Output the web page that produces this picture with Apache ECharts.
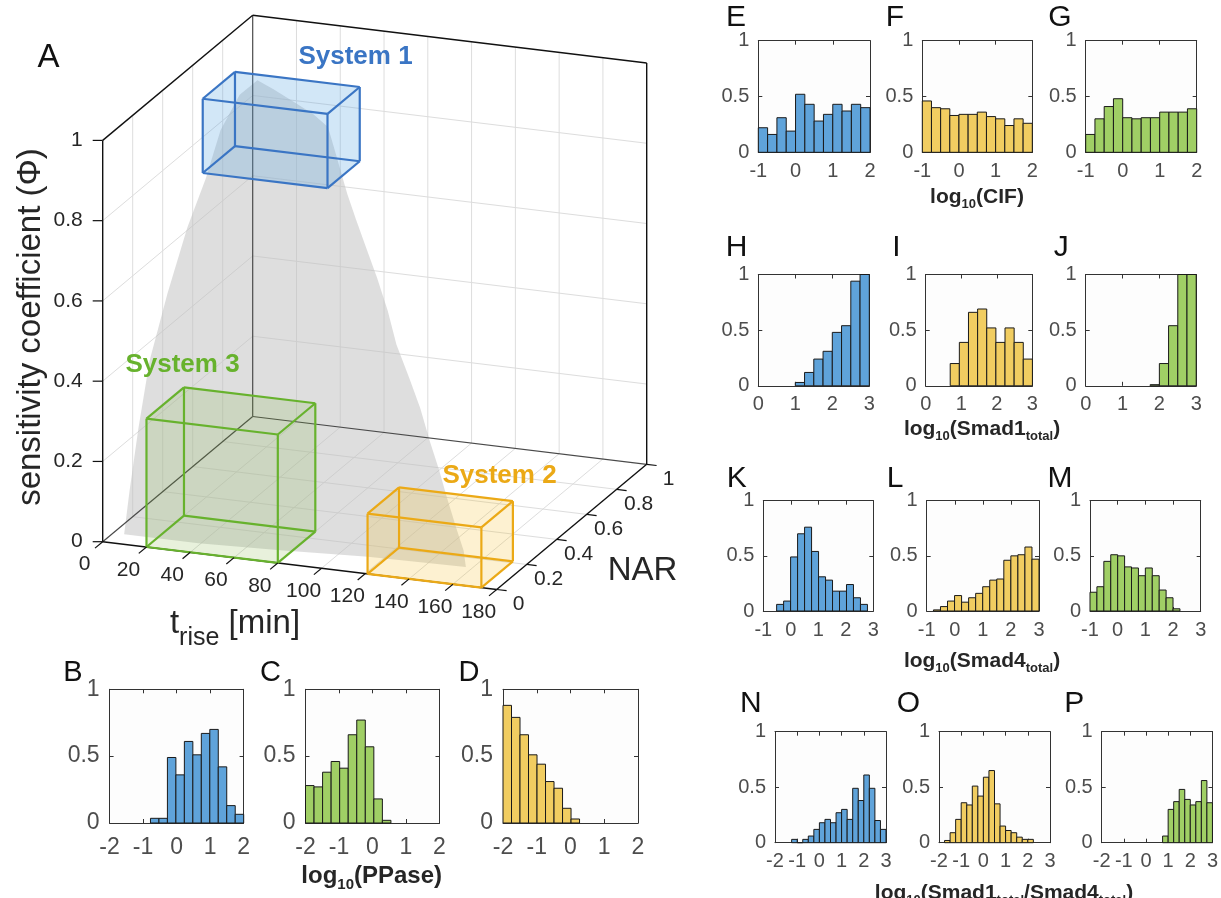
<!DOCTYPE html>
<html>
<head>
<meta charset="utf-8">
<script src="https://cdn.jsdelivr.net/npm/echarts@6/dist/echarts.min.js"></script>
<style>
  html, body { margin: 0; padding: 0; background: #ffffff; }
  #chart { width: 1221px; height: 898px; }
</style>
</head>
<body>
<div id="chart"></div>
<script>
// ---------- Panel A: sensitivity coefficient over (t_rise, NAR) ----------
const tRiseTicks = [0, 20, 40, 60, 80, 100, 120, 140, 160, 180];
const narTicks = [0, 0.2, 0.4, 0.6, 0.8, 1];
const narTickLabels = ['0', '0.2', '0.4', '0.6', '0.8', '1'];
const phiTicks = [0, 0.2, 0.4, 0.6, 0.8, 1];
const phiTickLabels = ['0', '0.2', '0.4', '0.6', '0.8', '1'];

const systemNames = ['System 1', 'System 2', 'System 3'];
const systemTRise = [[20, 77], [121, 173], [20, 80]];
const systemNAR = [[0.375, 0.59], [0, 0.21], [0, 0.25]];
const systemPhi = [[0.815, 1.0], [0, 0.15], [0, 0.32]];

// outline of the sampled parameter region, [t_rise, NAR, phi]
const regionOutline = [
  [5, 0.07, 0], [4, 0.12, 0.09], [4, 0.18, 0.23], [5, 0.24, 0.38], [9, 0.30, 0.53],
  [14, 0.36, 0.68], [19, 0.41, 0.79], [23, 0.45, 0.90], [29, 0.49, 0.98], [33, 0.55, 1.0],
  [41.5, 0.53, 0.99], [51, 0.52, 0.97], [62, 0.50, 0.95], [70, 0.48, 0.93], [74, 0.46, 0.89],
  [83, 0.42, 0.79], [89, 0.39, 0.74], [95, 0.37, 0.68], [102, 0.34, 0.62], [109, 0.31, 0.55],
  [115, 0.28, 0.48], [123, 0.25, 0.41], [130, 0.22, 0.35], [136.5, 0.19, 0.28], [142, 0.17, 0.22],
  [147, 0.15, 0.16], [152, 0.14, 0.09], [156, 0.13, 0.04], [157, 0.13, 0],
  [113, 0.12, 0], [75, 0.09, 0], [39, 0.07, 0]
];

// ---------- Histograms: normalised frequency per bin ----------
// bins: [first bin edge, bin width]
const ppaseSys1 = [0.035, 0.035, 0.49, 0.36, 0.61, 0.51, 0.67, 0.70, 0.42, 0.13, 0.065];
const ppaseSys1Bins = [-0.78, 0.253];
const ppaseSys3 = [0.28, 0.27, 0.38, 0.46, 0.41, 0.66, 0.77, 0.57, 0.18, 0.02];
const ppaseSys3Bins = [-2, 0.255];
const ppaseSys2 = [0.88, 0.79, 0.66, 0.51, 0.44, 0.31, 0.26, 0.11, 0.03];
const ppaseSys2Bins = [-2, 0.252];

const cifSys1 = [0.22, 0.16, 0.31, 0.19, 0.52, 0.43, 0.28, 0.34, 0.43, 0.37, 0.43, 0.40];
const cifSys2 = [0.46, 0.40, 0.39, 0.33, 0.34, 0.34, 0.36, 0.32, 0.30, 0.24, 0.30, 0.26];
const cifSys3 = [0.16, 0.30, 0.41, 0.48, 0.31, 0.30, 0.31, 0.31, 0.36, 0.36, 0.36, 0.39];
const cifBins = [-1, 0.25];

const smad1Sys1 = [0.03, 0.12, 0.24, 0.31, 0.48, 0.54, 0.94, 1.0];
const smad1Sys1Bins = [1, 0.25];
const smad1Sys2 = [0.20, 0.39, 0.66, 0.69, 0.52, 0.39, 0.52, 0.39, 0.24];
const smad1Sys2Bins = [0.69, 0.257];
const smad1Sys3 = [0.01, 0.20, 0.54, 1.0, 1.0];
const smad1Sys3Bins = [1.75, 0.25];

const smad4Sys1 = [0.06, 0.09, 0.49, 0.70, 0.76, 0.54, 0.31, 0.28, 0.18, 0.18, 0.24, 0.12, 0.06];
const smad4Sys1Bins = [-0.515, 0.254];
const smad4Sys2 = [0.01, 0.04, 0.09, 0.14, 0.08, 0.12, 0.16, 0.22, 0.28, 0.29, 0.46, 0.50, 0.51, 0.58, 0.47];
const smad4Sys2Bins = [-0.76, 0.2507];
const smad4Sys3 = [0.17, 0.22, 0.45, 0.51, 0.50, 0.40, 0.39, 0.32, 0.39, 0.32, 0.19, 0.12, 0.02];
const smad4Sys3Bins = [-1, 0.25];

const ratioSys1 = [0.03, 0, 0.03, 0.06, 0.12, 0.18, 0.21, 0.18, 0.27, 0.30, 0.21, 0.49, 0.38, 0.61, 0.49, 0.20, 0.12];
const ratioSys1Bins = [-1.25, 0.25];
const ratioSys2 = [0.02, 0.09, 0.21, 0.36, 0.34, 0.51, 0.42, 0.59, 0.65, 0.35, 0.15, 0.11, 0.09, 0.05, 0.03, 0.03];
const ratioSys2Bins = [-1.75, 0.25];
const ratioSys3 = [0.06, 0.30, 0.37, 0.48, 0.39, 0.34, 0.37, 0.56, 0.36];
const ratioSys3Bins = [0.75, 0.25];

// ---------- styles ----------
const FONT = '"Liberation Sans", Arial, Helvetica, sans-serif';
const INK = '#262626';
const TICK_INK = '#4d4d4d';
const BAR_BLUE = '#5FA3DA', BAR_YELLOW = '#F1CD61', BAR_GREEN = '#A0CF65';
const SYS_EDGE = ['#3A75C4', '#EBA916', '#67B22D'];
const SYS_FACE = ['rgba(95,170,230,0.15)', 'rgba(245,190,40,0.11)', 'rgba(120,175,60,0.09)'];

// ---------- orthographic view of the (t_rise, NAR, phi) box ----------
const T_MAX = 180;
const ORIGIN = [102.7, 541.7];
const V_T = [394, 47.8];     // t_rise 0 -> T_MAX
const V_N = [150, -125.2];   // NAR 0 -> 1
const V_F = [0, -401.3];     // phi 0 -> 1
function project(t, n, f) {
  const a = t / T_MAX;
  return [ORIGIN[0] + a * V_T[0] + n * V_N[0] + f * V_F[0],
          ORIGIN[1] + a * V_T[1] + n * V_N[1] + f * V_F[1]];
}

// grid lines on the two rear walls and the floor
const wallLines = [];
tRiseTicks.filter(t => t > 0 && t < T_MAX).forEach(t => {
  wallLines.push([t, 1, 0, t, 1, 1]);
  wallLines.push([t, 0, 0, t, 1, 0]);
});
narTicks.filter(n => n > 0 && n < 1).forEach(n => {
  wallLines.push([0, n, 0, 0, n, 1]);
  wallLines.push([0, n, 0, T_MAX, n, 0]);
});
phiTicks.filter(f => f > 0 && f < 1).forEach(f => {
  wallLines.push([0, 1, f, T_MAX, 1, f]);
  wallLines.push([0, 0, f, 0, 1, f]);
});

const rearEdges = [[0, 1, 0, 0, 1, 1], [0, 0, 0, 0, 1, 0], [0, 1, 0, T_MAX, 1, 0]];
const frontEdges = [
  [0, 0, 0, 0, 0, 1], [0, 0, 0, T_MAX, 0, 0], [T_MAX, 0, 0, T_MAX, 1, 0],
  [0, 0, 1, 0, 1, 1], [0, 1, 1, T_MAX, 1, 1], [T_MAX, 1, 0, T_MAX, 1, 1]
];

const tickItems = [];
phiTicks.forEach((f, i) => tickItems.push({ kind: 'phi', v: f, label: phiTickLabels[i] }));
tRiseTicks.forEach(t => tickItems.push({ kind: 't', v: t, label: String(t) }));
narTicks.forEach((n, i) => tickItems.push({ kind: 'nar', v: n, label: narTickLabels[i] }));

function segment(api, r) {
  const p = api.coord(project(r[0], r[1], r[2]));
  const q = api.coord(project(r[3], r[4], r[5]));
  return { x1: p[0], y1: p[1], x2: q[0], y2: q[1] };
}
function rowOf(api) { return [0, 1, 2, 3, 4, 5].map(k => api.value(k)); }

function lineSeries(data, color, width, z) {
  return {
    type: 'custom', xAxisIndex: 0, yAxisIndex: 0, silent: true, z: z,
    data: data,
    renderItem: (params, api) => ({
      type: 'line', shape: segment(api, rowOf(api)),
      style: { stroke: color, lineWidth: width }
    })
  };
}

const panelASeries = [
  lineSeries(wallLines, '#dddddd', 1, 1),
  {
    type: 'custom', xAxisIndex: 0, yAxisIndex: 0, silent: true, z: 2,
    data: [regionOutline[0]],
    renderItem: (params, api) => ({
      type: 'polygon',
      shape: { points: regionOutline.map(p => api.coord(project(p[0], p[1], p[2]))) },
      style: { fill: 'rgba(192,192,192,0.52)' }
    })
  },
  lineSeries(rearEdges, '#4a4a4a', 1.2, 3),
  lineSeries(frontEdges, '#111111', 1.4, 3),
  {
    type: 'custom', xAxisIndex: 0, yAxisIndex: 0, silent: true, z: 4,
    data: systemNames.map((_, i) => [systemTRise[i][0], systemNAR[i][0], systemPhi[i][0]]),
    renderItem: (params, api) => {
      const i = params.dataIndex;
      const T = systemTRise[i], N = systemNAR[i], F = systemPhi[i];
      const c = (a, b, d) => api.coord(project(T[a], N[b], F[d]));
      const faces = [
        [[0,0,0],[0,1,0],[0,1,1],[0,0,1]], [[1,0,0],[1,1,0],[1,1,1],[1,0,1]],
        [[0,0,0],[1,0,0],[1,0,1],[0,0,1]], [[0,1,0],[1,1,0],[1,1,1],[0,1,1]],
        [[0,0,0],[1,0,0],[1,1,0],[0,1,0]], [[0,0,1],[1,0,1],[1,1,1],[0,1,1]]
      ];
      const children = faces.map(f => ({
        type: 'polygon',
        shape: { points: f.map(k => c(k[0], k[1], k[2])) },
        style: { fill: SYS_FACE[i] }
      }));
      const corners = [];
      for (let a = 0; a < 2; a++) for (let b = 0; b < 2; b++) for (let d = 0; d < 2; d++) corners.push([a, b, d]);
      corners.forEach(p => {
        [[1,0,0],[0,1,0],[0,0,1]].forEach(dir => {
          const q = [p[0] + dir[0], p[1] + dir[1], p[2] + dir[2]];
          if (q.every(v => v <= 1)) {
            const s = c(p[0], p[1], p[2]), e = c(q[0], q[1], q[2]);
            children.push({
              type: 'line', shape: { x1: s[0], y1: s[1], x2: e[0], y2: e[1] },
              style: { stroke: SYS_EDGE[i], lineWidth: 2.2 }
            });
          }
        });
      });
      return { type: 'group', children: children };
    }
  },
  {
    type: 'custom', xAxisIndex: 0, yAxisIndex: 0, silent: true, z: 5,
    data: tickItems.map(d => [d.v, 0]),
    renderItem: (params, api) => {
      const it = tickItems[params.dataIndex];
      let p, tick, lx, ly, align;
      if (it.kind === 'phi') {
        p = api.coord(project(0, 0, it.v));
        tick = [p[0] - 10, p[1]];
        lx = p[0] - 20; ly = p[1]; align = 'right';
      } else if (it.kind === 't') {
        p = api.coord(project(it.v, 0, 0));
        tick = [p[0] - 7.7, p[1] + 6.4];
        lx = p[0] - 18; ly = p[1] + 23; align = 'center';
      } else {
        p = api.coord(project(T_MAX, it.v, 0));
        tick = [p[0] + 9.9, p[1] + 1.2];
        lx = p[0] + 22; ly = p[1] + 15; align = 'center';
      }
      return {
        type: 'group',
        children: [
          { type: 'line', shape: { x1: p[0], y1: p[1], x2: tick[0], y2: tick[1] },
            style: { stroke: '#111111', lineWidth: 1.2 } },
          { type: 'text', x: lx, y: ly,
            style: { text: it.label, fill: INK, font: '21px ' + FONT, align: align, verticalAlign: 'middle' } }
        ]
      };
    }
  }
];

// ---------- histogram panels ----------
const histPanels = [
  { values: ppaseSys1, bins: ppaseSys1Bins, color: BAR_BLUE,   range: [-2, 2] },
  { values: ppaseSys3, bins: ppaseSys3Bins, color: BAR_GREEN,  range: [-2, 2] },
  { values: ppaseSys2, bins: ppaseSys2Bins, color: BAR_YELLOW, range: [-2, 2] },
  { values: cifSys1, bins: cifBins, color: BAR_BLUE,   range: [-1, 2] },
  { values: cifSys2, bins: cifBins, color: BAR_YELLOW, range: [-1, 2] },
  { values: cifSys3, bins: cifBins, color: BAR_GREEN,  range: [-1, 2] },
  { values: smad1Sys1, bins: smad1Sys1Bins, color: BAR_BLUE,   range: [0, 3] },
  { values: smad1Sys2, bins: smad1Sys2Bins, color: BAR_YELLOW, range: [0, 3] },
  { values: smad1Sys3, bins: smad1Sys3Bins, color: BAR_GREEN,  range: [0, 3] },
  { values: smad4Sys1, bins: smad4Sys1Bins, color: BAR_BLUE,   range: [-1, 3] },
  { values: smad4Sys2, bins: smad4Sys2Bins, color: BAR_YELLOW, range: [-1, 3] },
  { values: smad4Sys3, bins: smad4Sys3Bins, color: BAR_GREEN,  range: [-1, 3] },
  { values: ratioSys1, bins: ratioSys1Bins, color: BAR_BLUE,   range: [-2, 3] },
  { values: ratioSys2, bins: ratioSys2Bins, color: BAR_YELLOW, range: [-2, 3] },
  { values: ratioSys3, bins: ratioSys3Bins, color: BAR_GREEN,  range: [-2, 3] }
];
// plot-area rectangles [left, top, width, height]
const histBoxes = [
  [109.6, 689.3, 134, 133.7], [305.5, 689.3, 134, 133.7], [503, 689.3, 135, 133.7],
  [758.3, 40.7, 111.7, 111.6], [922.3, 40.7, 110, 111.6], [1085.7, 40.7, 111, 111.6],
  [758.3, 274.5, 111, 111.3], [925.7, 274.5, 106.6, 111.3], [1085.7, 274.5, 110.5, 111.3],
  [763.3, 500.7, 110, 110.3], [926.7, 500.7, 112.3, 110.3], [1090, 500.7, 110.7, 110.3],
  [775, 731.7, 111, 111], [939, 731.7, 111, 111], [1101.7, 731.7, 111, 111]
];

const grids = [{ left: 0, top: 0, width: 1221, height: 898 }];
const xAxes = [{ gridIndex: 0, type: 'value', min: 0, max: 1221, show: false }];
const yAxes = [{ gridIndex: 0, type: 'value', min: 0, max: 898, inverse: true, show: false }];
const histSeries = [];

histPanels.forEach((p, k) => {
  const b = histBoxes[k];
  const big = k < 3;
  const fs = big ? 23 : 20;
  const g = k + 1;
  grids.push({ left: b[0], top: b[1], width: b[2], height: b[3], show: true, backgroundColor: '#fdfdfd', borderWidth: 0 });
  const line = { show: true, onZero: false, lineStyle: { color: '#333333', width: 1 } };
  const tick = { show: true, inside: true, length: 4, lineStyle: { color: '#333333' } };
  const label = { show: true, color: TICK_INK, fontSize: fs, fontFamily: FONT, hideOverlap: false };
  xAxes.push({ gridIndex: g, type: 'value', position: 'bottom', min: p.range[0], max: p.range[1], interval: 1,
    axisLine: line, axisTick: tick, splitLine: { show: false },
    axisLabel: Object.assign({ margin: big ? 13 : 9, showMinLabel: true, showMaxLabel: true }, label) });
  xAxes.push({ gridIndex: g, type: 'value', position: 'top', min: p.range[0], max: p.range[1], interval: 1,
    axisLine: line, axisTick: tick, splitLine: { show: false }, axisLabel: { show: false } });
  yAxes.push({ gridIndex: g, type: 'value', position: 'left', min: 0, max: 1, interval: 0.5,
    axisLine: line, axisTick: tick, splitLine: { show: false },
    axisLabel: Object.assign({ margin: big ? 10 : 9, formatter: v => String(v) }, label) });
  yAxes.push({ gridIndex: g, type: 'value', position: 'right', min: 0, max: 1, interval: 0.5,
    axisLine: line, axisTick: tick, splitLine: { show: false }, axisLabel: { show: false } });

  const start = p.bins[0], w = p.bins[1];
  histSeries.push({
    type: 'custom', xAxisIndex: 2 * k + 1, yAxisIndex: 2 * k + 1, silent: true, z: 3,
    data: p.values.map((h, i) => [start + i * w, start + (i + 1) * w, h]),
    renderItem: (params, api) => {
      const a = api.coord([api.value(0), api.value(2)]);
      const z = api.coord([api.value(1), 0]);
      return {
        type: 'rect',
        shape: { x: a[0], y: a[1], width: z[0] - a[0], height: z[1] - a[1] },
        style: { fill: p.color, stroke: '#1a1a1a', lineWidth: 1 }
      };
    }
  });
});

// ---------- text: panel letters, axis titles, system names ----------
function letter(ch, x, y, size) {
  return { type: 'text', x: x, y: y, z: 10,
    style: { text: ch, fill: '#111111', font: size + 'px ' + FONT, align: 'center', verticalAlign: 'middle' } };
}
function logTitle(x, y, parts, size) {
  const sub = Math.round(size * 0.62);
  return { type: 'text', x: x, y: y, z: 10,
    style: {
      text: parts, align: 'center', verticalAlign: 'middle',
      rich: {
        m: { fontFamily: FONT, fontWeight: 'bold', fontSize: size, fill: INK },
        s: { fontFamily: FONT, fontWeight: 'bold', fontSize: sub, fill: INK, padding: [Math.round(size * 0.7), 0, 0, 0] }
      }
    } };
}
const graphics = [
  letter('A', 48.5, 58, 33),
  letter('B', 72.8, 673.3, 29), letter('C', 270.5, 673.3, 29), letter('D', 469, 673.3, 29),
  letter('E', 736, 17.5, 30), letter('F', 895, 17.5, 30), letter('G', 1060, 17.5, 30),
  letter('H', 736.7, 247.5, 30), letter('I', 896.3, 247.5, 30), letter('J', 1061.3, 247.5, 30),
  letter('K', 736.7, 479, 30), letter('L', 895, 479, 30), letter('M', 1060, 479, 30),
  letter('N', 750.8, 704, 30), letter('O', 908.3, 704, 30), letter('P', 1074.2, 704, 30),
  logTitle(371.7, 876, '{m|log}{s|10}{m|(PPase)}', 24),
  logTitle(977, 197, '{m|log}{s|10}{m|(CIF)}', 21),
  logTitle(982, 429, '{m|log}{s|10}{m|(Smad1}{s|total}{m|)}', 21),
  logTitle(982, 661, '{m|log}{s|10}{m|(Smad4}{s|total}{m|)}', 21),
  logTitle(1004, 893, '{m|log}{s|10}{m|(Smad1}{s|total}{m|/Smad4}{s|total}{m|)}', 21),
  { type: 'text', x: 31, y: 327, rotation: Math.PI / 2, z: 10,
    style: { text: 'sensitivity coefficient (\u03A6)', fill: INK, font: '33px ' + FONT, align: 'center', verticalAlign: 'middle' } },
  { type: 'text', x: 235, y: 624, z: 10,
    style: { text: '{m|t}{s|rise}{m| [min]}', align: 'center', verticalAlign: 'middle',
      rich: { m: { fontFamily: FONT, fontSize: 33, fill: INK },
              s: { fontFamily: FONT, fontSize: 25, fill: INK, padding: [28, 0, 0, 0] } } } },
  { type: 'text', x: 642.5, y: 571, z: 10,
    style: { text: 'NAR', fill: INK, font: '33px ' + FONT, align: 'center', verticalAlign: 'middle' } },
  { type: 'text', x: 355.5, y: 57, z: 10,
    style: { text: systemNames[0], fill: SYS_EDGE[0], font: 'bold 26px ' + FONT, align: 'center', verticalAlign: 'middle' } },
  { type: 'text', x: 499.5, y: 476, z: 10,
    style: { text: systemNames[1], fill: SYS_EDGE[1], font: 'bold 26px ' + FONT, align: 'center', verticalAlign: 'middle' } },
  { type: 'text', x: 182.5, y: 365, z: 10,
    style: { text: systemNames[2], fill: SYS_EDGE[2], font: 'bold 26px ' + FONT, align: 'center', verticalAlign: 'middle' } }
];

const chart = echarts.init(document.getElementById('chart'), null, { renderer: 'canvas' });
chart.setOption({
  animation: false,
  backgroundColor: '#ffffff',
  grid: grids,
  xAxis: xAxes,
  yAxis: yAxes,
  series: panelASeries.concat(histSeries),
  graphic: graphics
});
</script>
</body>
</html>
